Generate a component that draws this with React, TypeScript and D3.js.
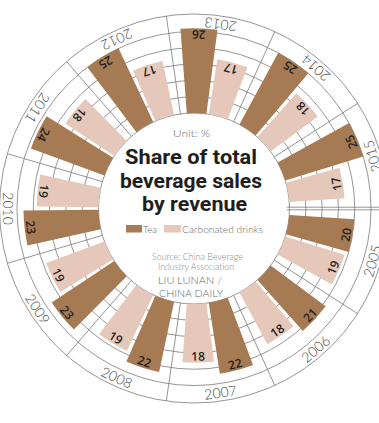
import React from "react";
import * as d3 from "d3";

const years = ["2005", "2006", "2007", "2008", "2009", "2010", "2011", "2012", "2013", "2014", "2015"];
const tea = [20, 21, 22, 22, 23, 23, 24, 25, 26, 25, 25];
const carb = [19, 18, 18, 19, 19, 19, 18, 17, 17, 18, 17];
const seriesKeys = ["tea", "carb"];
const seriesNames = ["Tea", "Carbonated drinks"];
const valueTicks = [0, 5, 10, 15, 20, 25];

const W = 379;
const H = 423;
const cx = 194;
const cy = 208.5;
const R_OUTER = 194.5;
const R_LABEL = 185.5;
const R_DISC = 93;

const COLORS: Record<string, string> = { tea: "#a67a52", carb: "#e6c8ba" };
const GRID = "#7a7a7a";

export default function App() {
  const angle = d3
    .scaleBand<string>()
    .domain(years)
    .range([Math.PI / 2, Math.PI / 2 + 2 * Math.PI]);
  const sub = d3
    .scaleBand<string>()
    .domain(seriesKeys)
    .range([0, angle.bandwidth()])
    .paddingInner(0.106)
    .paddingOuter(0.293);
  const radius = d3.scaleLinear().domain([0, 26]).range([95.5, 180.3]);

  const arc = d3.arc<any>();
  const deg = (a: number) => (a * 180) / Math.PI;
  const pt = (a: number, r: number) => [cx + r * Math.sin(a), cy - r * Math.cos(a)];

  const bars: any[] = [];
  years.forEach((y, i) => {
    const vals = [tea[i], carb[i]];
    seriesKeys.forEach((k, j) => {
      const a0 = (angle(y) as number) + (sub(k) as number);
      const a1 = a0 + sub.bandwidth();
      bars.push({ key: `${y}-${k}`, k, v: vals[j], a0, a1, am: (a0 + a1) / 2 });
    });
  });

  const boundaries = years.map((y) => angle(y) as number);

  return (
    <svg
      width={W}
      height={H}
      viewBox={`0 0 ${W} ${H}`}
      style={{ position: "absolute", left: 0, top: 0, display: "block", background: "#fff" }}
    >
      <rect x={0} y={0} width={W} height={H} fill="#fff" />
      {/* grid circles */}
      <g fill="none" stroke={GRID} strokeWidth={0.8}>
        {valueTicks.map((v) => (
          <circle key={v} cx={cx} cy={cy} r={radius(v)} />
        ))}
        <circle cx={cx} cy={cy} r={R_OUTER} />
      </g>
      {/* radial lines */}
      <g stroke={GRID} strokeWidth={0.8}>
        {boundaries.map((a, i) => {
          if (i === 0) {
            const off = 1.3;
            const nx = Math.cos(a);
            const ny = Math.sin(a);
            const [x0, y0] = pt(a, radius(0) - 3);
            const [x1, y1] = pt(a, R_OUTER + 10);
            return (
              <g key={i}>
                <line x1={x0 + nx * off} y1={y0 + ny * off} x2={x1 + nx * off} y2={y1 + ny * off} />
                <line x1={x0 - nx * off} y1={y0 - ny * off} x2={x1 - nx * off} y2={y1 - ny * off} />
              </g>
            );
          }
          const [x0, y0] = pt(a, radius(0));
          const [x1, y1] = pt(a, R_OUTER);
          return <line key={i} x1={x0} y1={y0} x2={x1} y2={y1} />;
        })}
      </g>
      {/* bars */}
      <g transform={`translate(${cx},${cy})`}>
        {bars.map((b) => (
          <path
            key={b.key}
            d={arc({ innerRadius: radius(0), outerRadius: radius(b.v), startAngle: b.a0, endAngle: b.a1 }) as string}
            fill={COLORS[b.k]}
          />
        ))}
      </g>
      {/* value labels */}
      <g fontFamily="'Open Sans', sans-serif" fontWeight={600} fontSize={12} fill="#222" textAnchor="middle">
        {bars.map((b) => {
          const [x, y] = pt(b.am, radius(b.v) - 6.5);
          return (
            <text key={b.key} x={x} y={y} dominantBaseline="central" transform={`rotate(${deg(b.am) - 180},${x},${y})`}>
              {b.v}
            </text>
          );
        })}
      </g>
      {/* year labels */}
      <g fontFamily="Lato, sans-serif" fontWeight={300} fontSize={14} fill="#444" textAnchor="middle">
        {years.map((y) => {
          const a = (angle(y) as number) + angle.bandwidth() / 2;
          const [x, yy] = pt(a, R_LABEL);
          return (
            <text key={y} x={x} y={yy} dominantBaseline="central" transform={`rotate(${deg(a) - 180},${x},${yy})`}>
              {y}
            </text>
          );
        })}
      </g>
      {/* center disc */}
      <circle cx={cx} cy={cy} r={R_DISC} fill="#fff" />
      <text x={173} y={137.3} fontFamily="Lato, sans-serif" fontWeight={300} fontSize={10.5} fill="#666" textLength={37} lengthAdjust="spacingAndGlyphs">
        Unit: %
      </text>
      <g fontFamily="'Liberation Sans Narrow', 'Roboto', sans-serif" fontWeight={700} fontSize={21} fill="#1e1e1e">
        <text x={125} y={164} textLength={132} lengthAdjust="spacingAndGlyphs">Share of total</text>
        <text x={120} y={187.5} textLength={142} lengthAdjust="spacingAndGlyphs">beverage sales</text>
        <text x={142} y={211} textLength={105} lengthAdjust="spacingAndGlyphs">by revenue</text>
      </g>
      {/* legend */}
      <g fontFamily="Lato, sans-serif" fontWeight={300} fontSize={10.5} fill="#666">
        <rect x={126} y={225} width={16} height={7.5} fill={COLORS.tea} />
        <text x={143} y={232.5} textLength={14} lengthAdjust="spacingAndGlyphs">{seriesNames[0]}</text>
        <rect x={164} y={225} width={17} height={7.5} fill={COLORS.carb} />
        <text x={182} y={232.5} textLength={81} lengthAdjust="spacingAndGlyphs">{seriesNames[1]}</text>
      </g>
      <g fontFamily="Lato, sans-serif" fontWeight={300} fontSize={9} fill="#888">
        <text x={152} y={259.8} textLength={91} lengthAdjust="spacingAndGlyphs">Source: China Beverage</text>
        <text x={158} y={269.8} textLength={76} lengthAdjust="spacingAndGlyphs">Industry Association</text>
      </g>
      <g fontFamily="Lato, sans-serif" fontWeight={300} fontSize={10.5} fill="#666">
        <text x={158} y={284} textLength={64} lengthAdjust="spacingAndGlyphs">LIU LUNAN /</text>
        <text x={159} y={296.5} textLength={64} lengthAdjust="spacingAndGlyphs">CHINA DAILY</text>
      </g>
    </svg>
  );
}
